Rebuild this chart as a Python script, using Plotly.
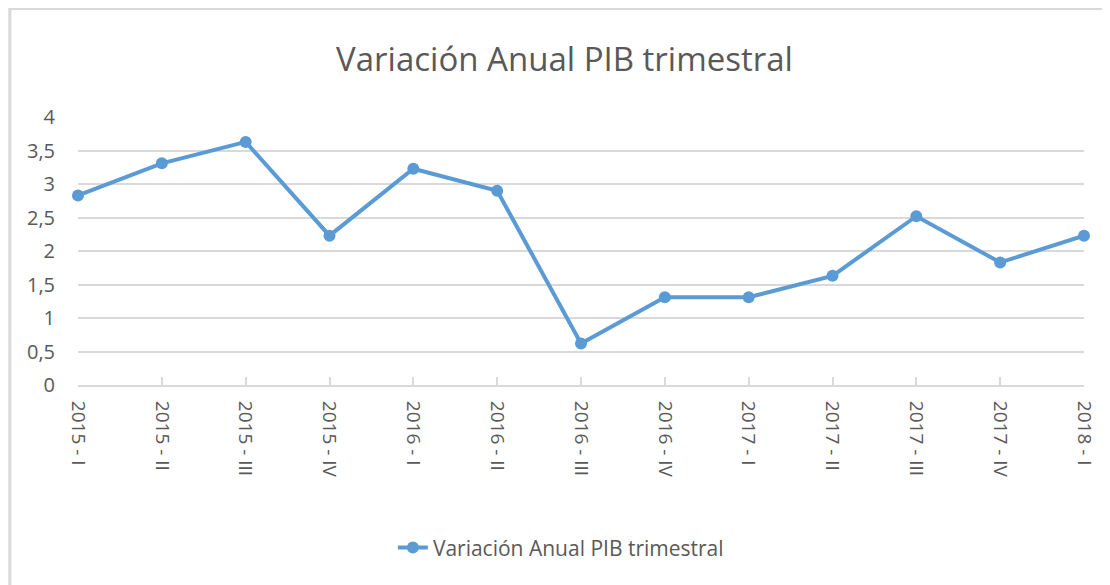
import plotly.graph_objects as go

# --- Data ---
quarters = ["2015 - I", "2015 - II", "2015 - III", "2015 - IV",
            "2016 - I", "2016 - II", "2016 - III", "2016 - IV",
            "2017 - I", "2017 - II", "2017 - III", "2017 - IV",
            "2018 - I"]
pib_var = [2.83, 3.31, 3.63, 2.23, 3.23, 2.90, 0.62, 1.31, 1.31, 1.63, 2.52, 1.83, 2.23]
series_name = "Variación Anual PIB trimestral"

TEXT = "#595959"
GRID = "#D9D9D9"
BLUE = "#5B9BD5"
FONT = "Open Sans, DejaVu Sans, sans-serif"

fig = go.Figure(go.Scatter(
    x=list(range(len(quarters))),
    y=pib_var,
    mode="lines+markers",
    name=series_name,
    line=dict(color=BLUE, width=4),
    marker=dict(color=BLUE, size=12, symbol="circle"),
    cliponaxis=False,
))

# page body adds an 8px margin, so the figure is a bit smaller than the window
fig.update_layout(
    width=1102, height=577,
    margin=dict(l=70, r=22, t=109, b=200),
    paper_bgcolor="white", plot_bgcolor="white",
    separators=",.",
    font=dict(family=FONT, color=TEXT, size=18),
    title=dict(text=series_name, xref="container", x=0.505, xanchor="center",
               y=0.91, yanchor="middle",
               font=dict(family=FONT, size=33, color=TEXT)),
    showlegend=True,
    legend=dict(orientation="h", x=0.48, xanchor="center", y=-0.608, yanchor="middle",
                font=dict(family=FONT, size=21, color=TEXT)),
    xaxis=dict(
        range=[0, len(quarters) - 1],
        tickmode="array",
        tickvals=list(range(len(quarters))),
        ticktext=quarters,
        tickangle=90,
        ticks="inside", ticklen=8, tickcolor=GRID, tickwidth=2,
        showline=True, linecolor=GRID, linewidth=2,
        showgrid=False, zeroline=False,
        tickfont=dict(family=FONT, size=19, color=TEXT),
        ticklabelstandoff=10,
    ),
    yaxis=dict(
        range=[0, 4.002], dtick=0.5, tick0=0,
        showgrid=True, gridcolor=GRID, gridwidth=2,
        zeroline=False, showline=False,
        ticks="outside", ticklen=18, tickcolor="rgba(0,0,0,0)",
        tickfont=dict(family=FONT, size=20, color=TEXT),
    ),
    shapes=[dict(type="rect", xref="paper", yref="paper",
                 x0=-0.0678, x1=1.2, y0=-1.0, y1=1.405,
                 line=dict(color=GRID, width=3), layer="below")],
)

fig.write_html("out.html")
